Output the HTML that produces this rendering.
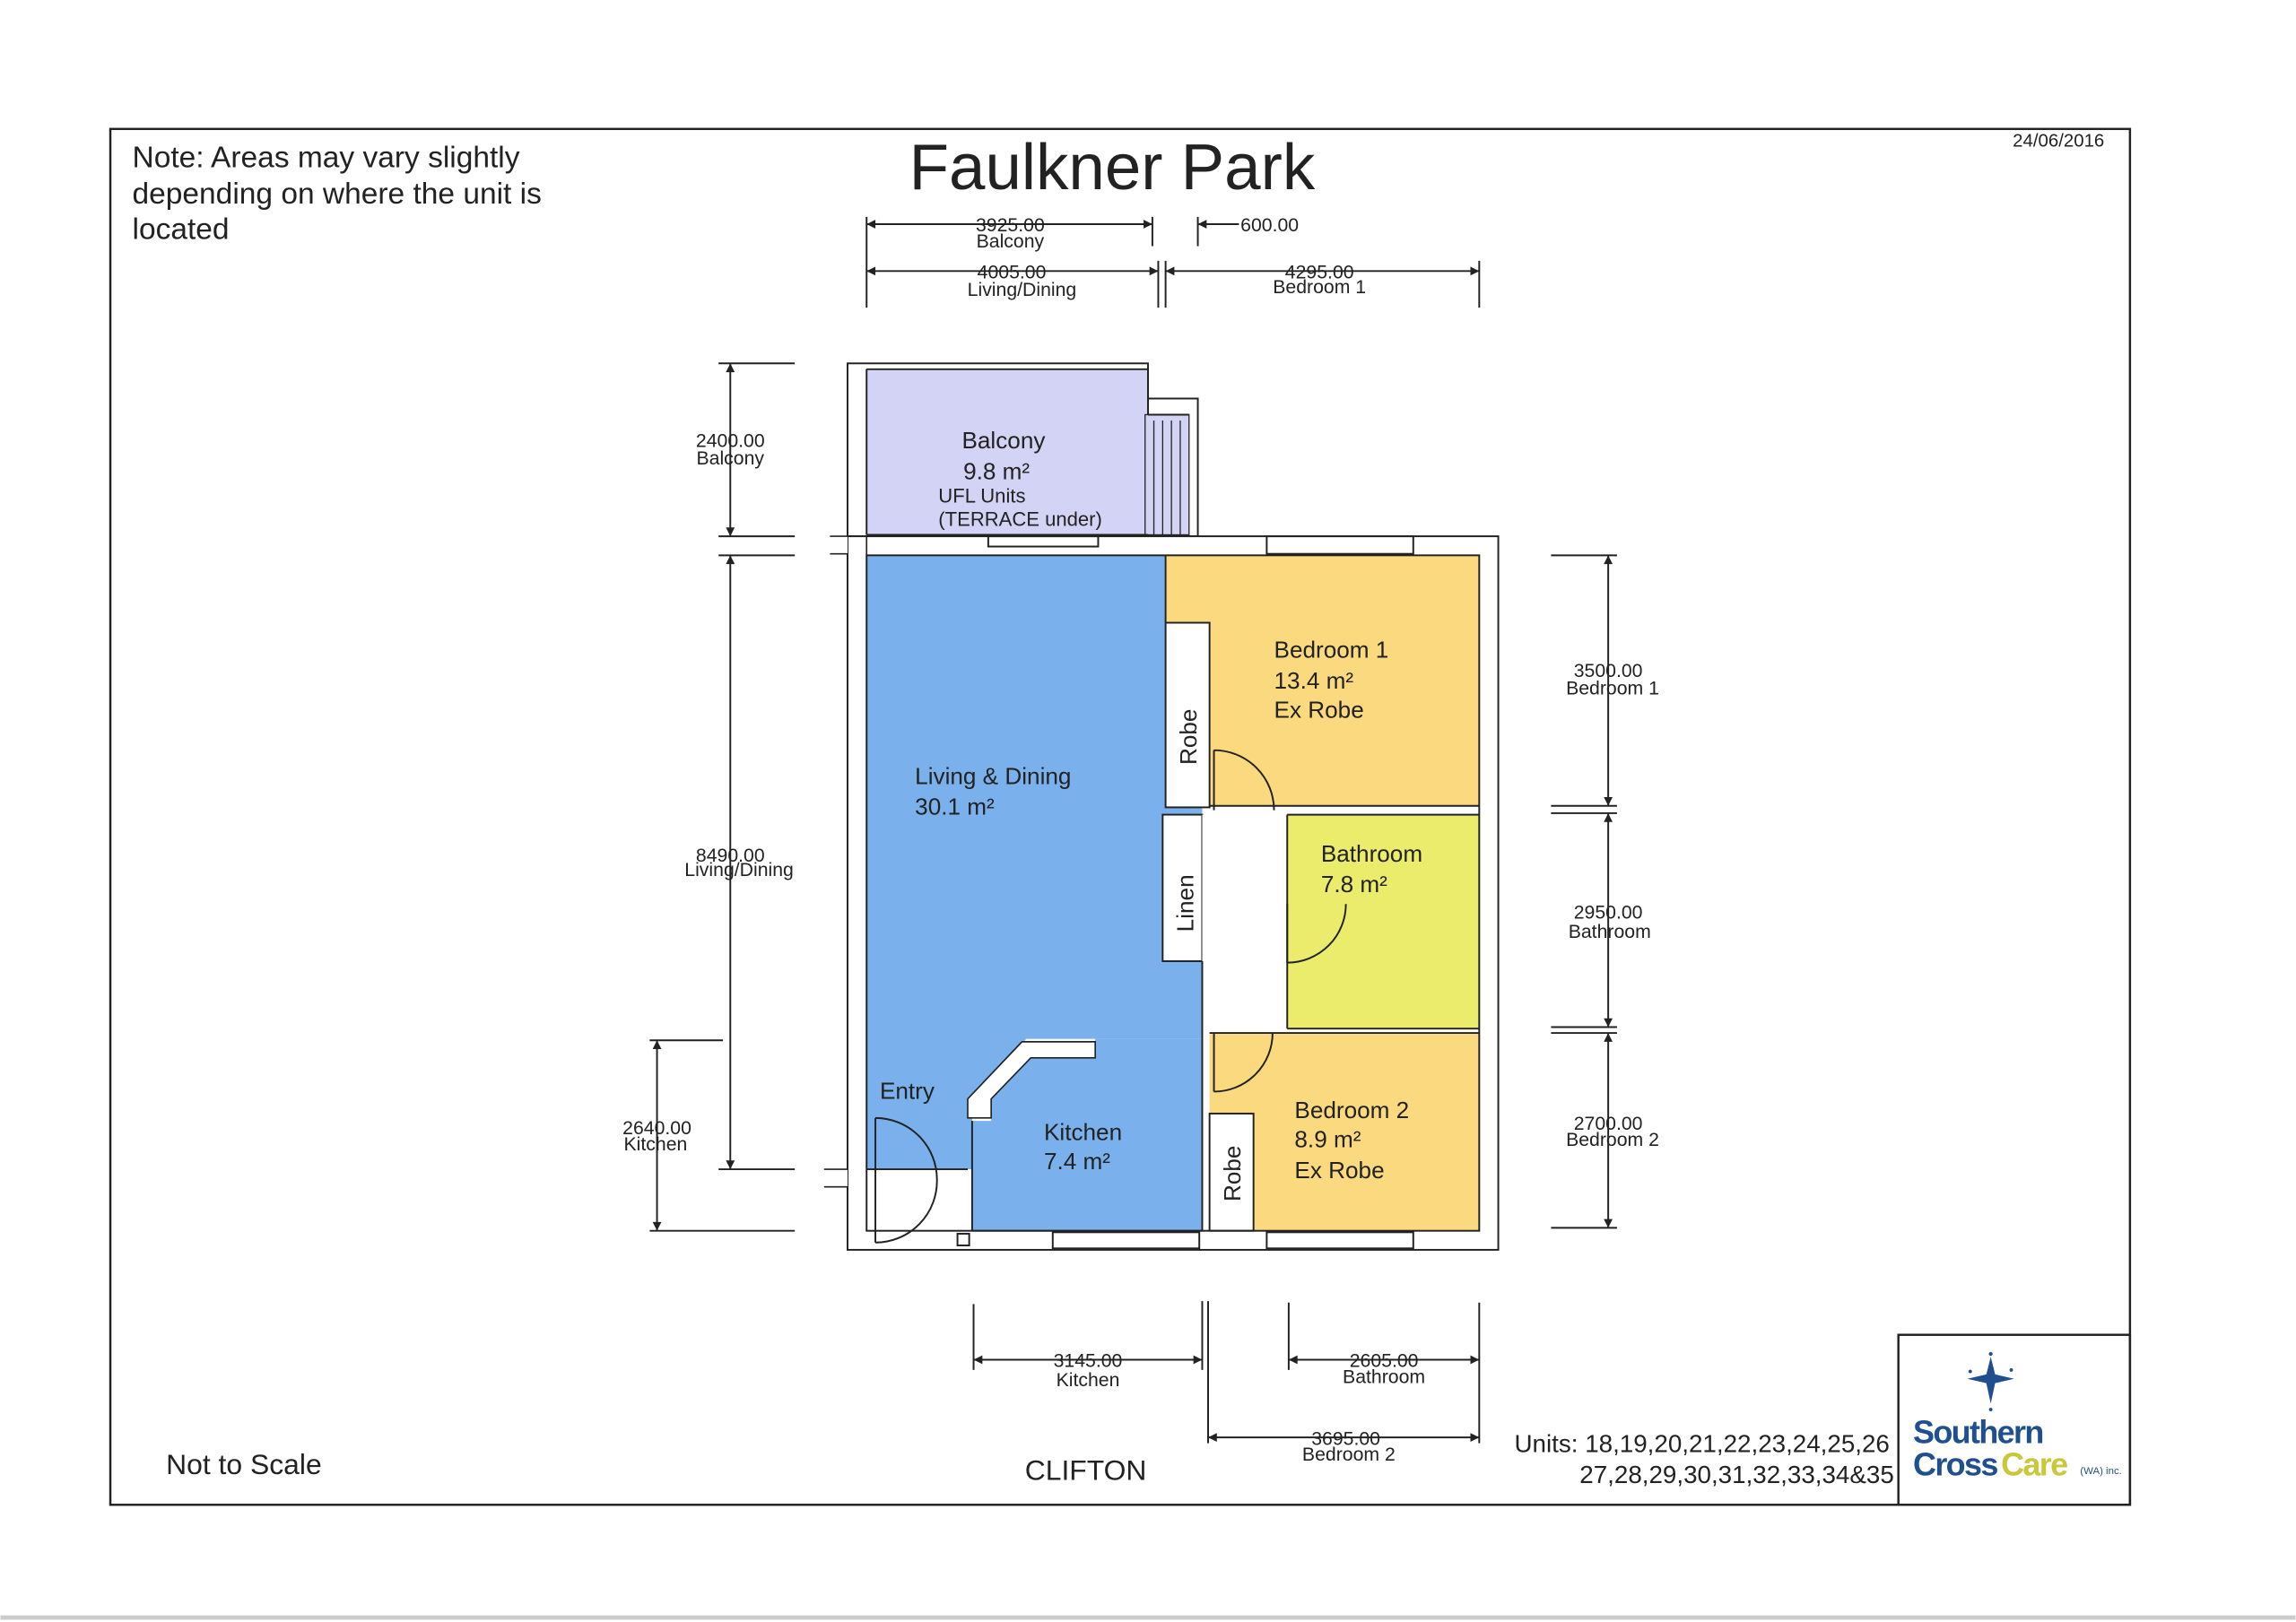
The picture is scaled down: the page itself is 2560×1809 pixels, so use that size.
<!DOCTYPE html>
<html><head><meta charset="utf-8"><style>
html,body{margin:0;padding:0;background:#fff;}
svg{display:block;}
text{font-family:"Liberation Sans",Arial,sans-serif;fill:#222;}
</style></head><body>
<svg width="2560" height="1809" viewBox="0 0 1566 1107" xmlns="http://www.w3.org/2000/svg">
<defs>
<marker id="a" viewBox="0 0 10 10" refX="10" refY="5" markerWidth="10" markerHeight="6" orient="auto-start-reverse" markerUnits="userSpaceOnUse"><path d="M0,0L10,5L0,10z" fill="#222"/></marker>
</defs>
<rect width="1566" height="1107" fill="#fff"/>
<line x1="0" y1="1104" x2="1566" y2="1104" stroke="#ccc" stroke-width="3"/>
<rect x="75" y="88" width="1378" height="939" fill="none" stroke="#222" stroke-width="1.5"/>
<rect x="1295" y="911" width="158" height="116" fill="none" stroke="#222" stroke-width="1.5"/>

<text x="90" y="114" font-size="20.5">Note: Areas may vary slightly</text>
<text x="90" y="139" font-size="20.5">depending on where the unit is</text>
<text x="90" y="163" font-size="20.5">located</text>
<text x="620" y="129" font-size="44.5">Faulkner Park</text>
<text x="1373" y="100" font-size="12.5">24/06/2016</text>
<text x="113" y="1006" font-size="19.5">Not to Scale</text>
<text x="699" y="1010" font-size="19.5">CLIFTON</text>
<text x="1289" y="991" font-size="17" text-anchor="end">Units: 18,19,20,21,22,23,24,25,26</text>
<text x="1292" y="1012" font-size="17" text-anchor="end">27,28,29,30,31,32,33,34&amp;35</text>

<!-- logo -->
<g fill="#1f4f8f">
<path d="M1358,926 L1361,938 L1374,941 L1361,944 L1358,958 L1355,944 L1342,941 L1355,938z"/>
<circle cx="1358" cy="924" r="1.3"/><circle cx="1344" cy="936" r="1.2"/><circle cx="1372" cy="935" r="1.2"/><circle cx="1358" cy="962" r="1.2"/>
</g>
<text x="1305" y="985" font-size="22" font-weight="bold" style="fill:#1f4f8f" letter-spacing="-1">Southern</text>
<text x="1305" y="1007" font-size="22" font-weight="bold" style="fill:#1f4f8f" letter-spacing="-1">Cross</text>
<text x="1365" y="1007" font-size="22" font-weight="bold" style="fill:#c8c83a" letter-spacing="-1">Care</text>
<text x="1419" y="1006" font-size="7" style="fill:#1f4f8f">(WA) inc.</text>

<!-- plan fills -->
<g stroke="#222" stroke-width="1.2">
<rect x="578" y="248" width="205" height="118" fill="#fff"/>
<rect x="783" y="272" width="34" height="94" fill="#fff"/>
<rect x="578" y="366" width="444" height="487" fill="#fff"/>
</g>
<rect x="591" y="252" width="192" height="113" fill="#d3d3f5"/>
<rect x="781" y="283" width="30" height="82" fill="#d3d3f5" stroke="#222" stroke-width="0.8"/>
<g stroke="#222" stroke-width="0.8"><line x1="787" y1="287" x2="787" y2="365"/><line x1="793" y1="287" x2="793" y2="365"/><line x1="799" y1="287" x2="799" y2="365"/><line x1="805" y1="287" x2="805" y2="365"/></g>
<line x1="591" y1="366" x2="591" y2="379" stroke="#222"/>

<path d="M591,379 H795 V425 H795 V550 H820 V709 H700 L663,750 V798 H591z" fill="#7ab0ec"/>
<path d="M820,709 V840 H663 V765 L676,765 L676,745 L702,722 H747 V709z" fill="#7ab0ec"/>
<path d="M795,379 H1009 V550 H825 V425 H795z" fill="#fbd97e"/>
<rect x="878" y="556" width="131" height="146" fill="#ecec6c"/>
<path d="M825,705 H1009 V840 H855 V760 H825z" fill="#fbd97e"/>
<path d="M660,763 L660,750 L697,711 H747 V722 H703 L676,750 V763z" fill="#fff" stroke="#222" stroke-width="1"/>
<g fill="#fff" stroke="#222" stroke-width="1.2">
<rect x="795" y="425" width="30" height="126"/>
<rect x="793" y="556" width="27" height="100"/>
<rect x="825" y="760" width="30" height="80"/>
</g>
<rect x="820" y="556" width="58" height="149" fill="#fff"/>
<g stroke="#222" stroke-width="1.2" fill="none">
<rect x="591" y="379" width="418" height="461"/>
<line x1="795" y1="379" x2="795" y2="425"/>
<line x1="825" y1="550" x2="1009" y2="550"/>
<line x1="878" y1="556" x2="1009" y2="556"/>
<line x1="878" y1="556" x2="878" y2="702"/>
<line x1="878" y1="702" x2="1009" y2="702"/>
<line x1="825" y1="705" x2="1009" y2="705"/>
<line x1="820" y1="656" x2="820" y2="840"/>
<line x1="663" y1="765" x2="663" y2="840"/>
<line x1="663" y1="840" x2="820" y2="840"/>
<line x1="591" y1="798" x2="660" y2="798"/>
<line x1="591" y1="365" x2="783" y2="365"/>
<line x1="591" y1="252" x2="591" y2="365"/>
<line x1="591" y1="252" x2="783" y2="252"/>
<line x1="783" y1="252" x2="783" y2="283"/>
<line x1="783" y1="283" x2="811" y2="283"/>
<rect x="674" y="366" width="75" height="7"/>
<rect x="864" y="366" width="100" height="12"/>
<rect x="864" y="841" width="100" height="11"/>
<rect x="718" y="841" width="100" height="11"/>
<rect x="653" y="842" width="8" height="8"/>
<path d="M828,512 V553 M828,512 A41,41 0 0 1 869,553"/>
<path d="M878,617 V657 M918,617 A40,40 0 0 1 878,657"/>
<path d="M828,745 V705 M868,705 A40,40 0 0 1 828,745"/>
<path d="M597,763 V848 M597,763 A42,42 0 0 1 639,805 A42,42 0 0 1 597,848"/>
</g>
<rect x="562" y="798" width="16" height="12" fill="#fff"/>
<rect x="562" y="366" width="16" height="12" fill="#fff"/>
<g stroke="#222" stroke-width="1"><line x1="562" y1="798" x2="578" y2="798"/><line x1="562" y1="810" x2="578" y2="810"/><line x1="566" y1="366" x2="578" y2="366"/><line x1="566" y1="378" x2="578" y2="378"/></g>

<g font-size="16">
<text x="656" y="306">Balcony</text><text x="657" y="327">9.8 m²</text>
<text x="640" y="343" font-size="13.5">UFL Units</text><text x="640" y="359" font-size="13.5">(TERRACE under)</text>
<text x="624" y="535">Living &amp; Dining</text><text x="624" y="556">30.1 m²</text>
<text x="869" y="449">Bedroom 1</text><text x="869" y="470">13.4 m²</text><text x="869" y="490">Ex Robe</text>
<text x="901" y="588">Bathroom</text><text x="901" y="609">7.8 m²</text>
<text x="883" y="763">Bedroom 2</text><text x="883" y="783">8.9 m²</text><text x="883" y="804">Ex Robe</text>
<text x="712" y="778">Kitchen</text><text x="712" y="798">7.4 m²</text>
<text x="600" y="750">Entry</text>
<text transform="translate(816,522) rotate(-90)">Robe</text>
<text transform="translate(814,636) rotate(-90)">Linen</text>
<text transform="translate(846,820) rotate(-90)">Robe</text>
</g>

<g stroke="#222" stroke-width="1.2" fill="none">
<line x1="591" y1="148" x2="591" y2="210"/><line x1="786" y1="148" x2="786" y2="168"/>
<line x1="817" y1="148" x2="817" y2="168"/>
<line x1="790" y1="178" x2="790" y2="210"/><line x1="795" y1="178" x2="795" y2="210"/><line x1="1009" y1="178" x2="1009" y2="210"/>
<line x1="591" y1="153" x2="786" y2="153" marker-start="url(#a)" marker-end="url(#a)"/>
<line x1="845" y1="153" x2="817" y2="153" marker-end="url(#a)"/>
<line x1="591" y1="185" x2="790" y2="185" marker-start="url(#a)" marker-end="url(#a)"/>
<line x1="795" y1="185" x2="1009" y2="185" marker-start="url(#a)" marker-end="url(#a)"/>
<line x1="490" y1="248" x2="542" y2="248"/><line x1="490" y1="366" x2="542" y2="366"/>
<line x1="490" y1="379" x2="542" y2="379"/><line x1="490" y1="798" x2="542" y2="798"/>
<line x1="443" y1="710" x2="493" y2="710"/><line x1="443" y1="840" x2="542" y2="840"/>
<line x1="498" y1="248" x2="498" y2="366" marker-start="url(#a)" marker-end="url(#a)"/>
<line x1="498" y1="379" x2="498" y2="798" marker-start="url(#a)" marker-end="url(#a)"/>
<line x1="448" y1="710" x2="448" y2="840" marker-start="url(#a)" marker-end="url(#a)"/>
<line x1="1058" y1="379" x2="1103" y2="379"/><line x1="1058" y1="550" x2="1103" y2="550"/><line x1="1058" y1="555" x2="1103" y2="555"/>
<line x1="1058" y1="701" x2="1103" y2="701"/><line x1="1058" y1="705" x2="1103" y2="705"/><line x1="1058" y1="838" x2="1103" y2="838"/>
<line x1="1097" y1="379" x2="1097" y2="550" marker-start="url(#a)" marker-end="url(#a)"/>
<line x1="1097" y1="555" x2="1097" y2="701" marker-start="url(#a)" marker-end="url(#a)"/>
<line x1="1097" y1="705" x2="1097" y2="838" marker-start="url(#a)" marker-end="url(#a)"/>
<line x1="664" y1="890" x2="664" y2="935"/><line x1="820" y1="888" x2="820" y2="935"/><line x1="824" y1="888" x2="824" y2="985"/>
<line x1="879" y1="889" x2="879" y2="935"/><line x1="1009" y1="889" x2="1009" y2="985"/>
<line x1="664" y1="928" x2="820" y2="928" marker-start="url(#a)" marker-end="url(#a)"/>
<line x1="879" y1="928" x2="1009" y2="928" marker-start="url(#a)" marker-end="url(#a)"/>
<line x1="824" y1="981" x2="1009" y2="981" marker-start="url(#a)" marker-end="url(#a)"/>
</g>
<g font-size="13" text-anchor="middle">
<text x="689" y="158">3925.00</text><text x="689" y="169">Balcony</text>
<text x="866" y="158">600.00</text>
<text x="690" y="190">4005.00</text><text x="697" y="202">Living/Dining</text>
<text x="900" y="190">4295.00</text><text x="900" y="200">Bedroom 1</text>
<text x="498" y="305">2400.00</text><text x="498" y="317">Balcony</text>
<text x="498" y="588">8490.00</text><text x="504" y="598">Living/Dining</text>
<text x="448" y="774">2640.00</text><text x="447" y="785">Kitchen</text>
<text x="1097" y="462">3500.00</text><text x="1100" y="474">Bedroom 1</text>
<text x="1097" y="627">2950.00</text><text x="1098" y="640">Bathroom</text>
<text x="1097" y="771">2700.00</text><text x="1100" y="782">Bedroom 2</text>
<text x="742" y="933">3145.00</text><text x="742" y="946">Kitchen</text>
<text x="944" y="933">2605.00</text><text x="944" y="944">Bathroom</text>
<text x="918" y="986">3695.00</text><text x="920" y="997">Bedroom 2</text>
</g>
</svg>
</body></html>
